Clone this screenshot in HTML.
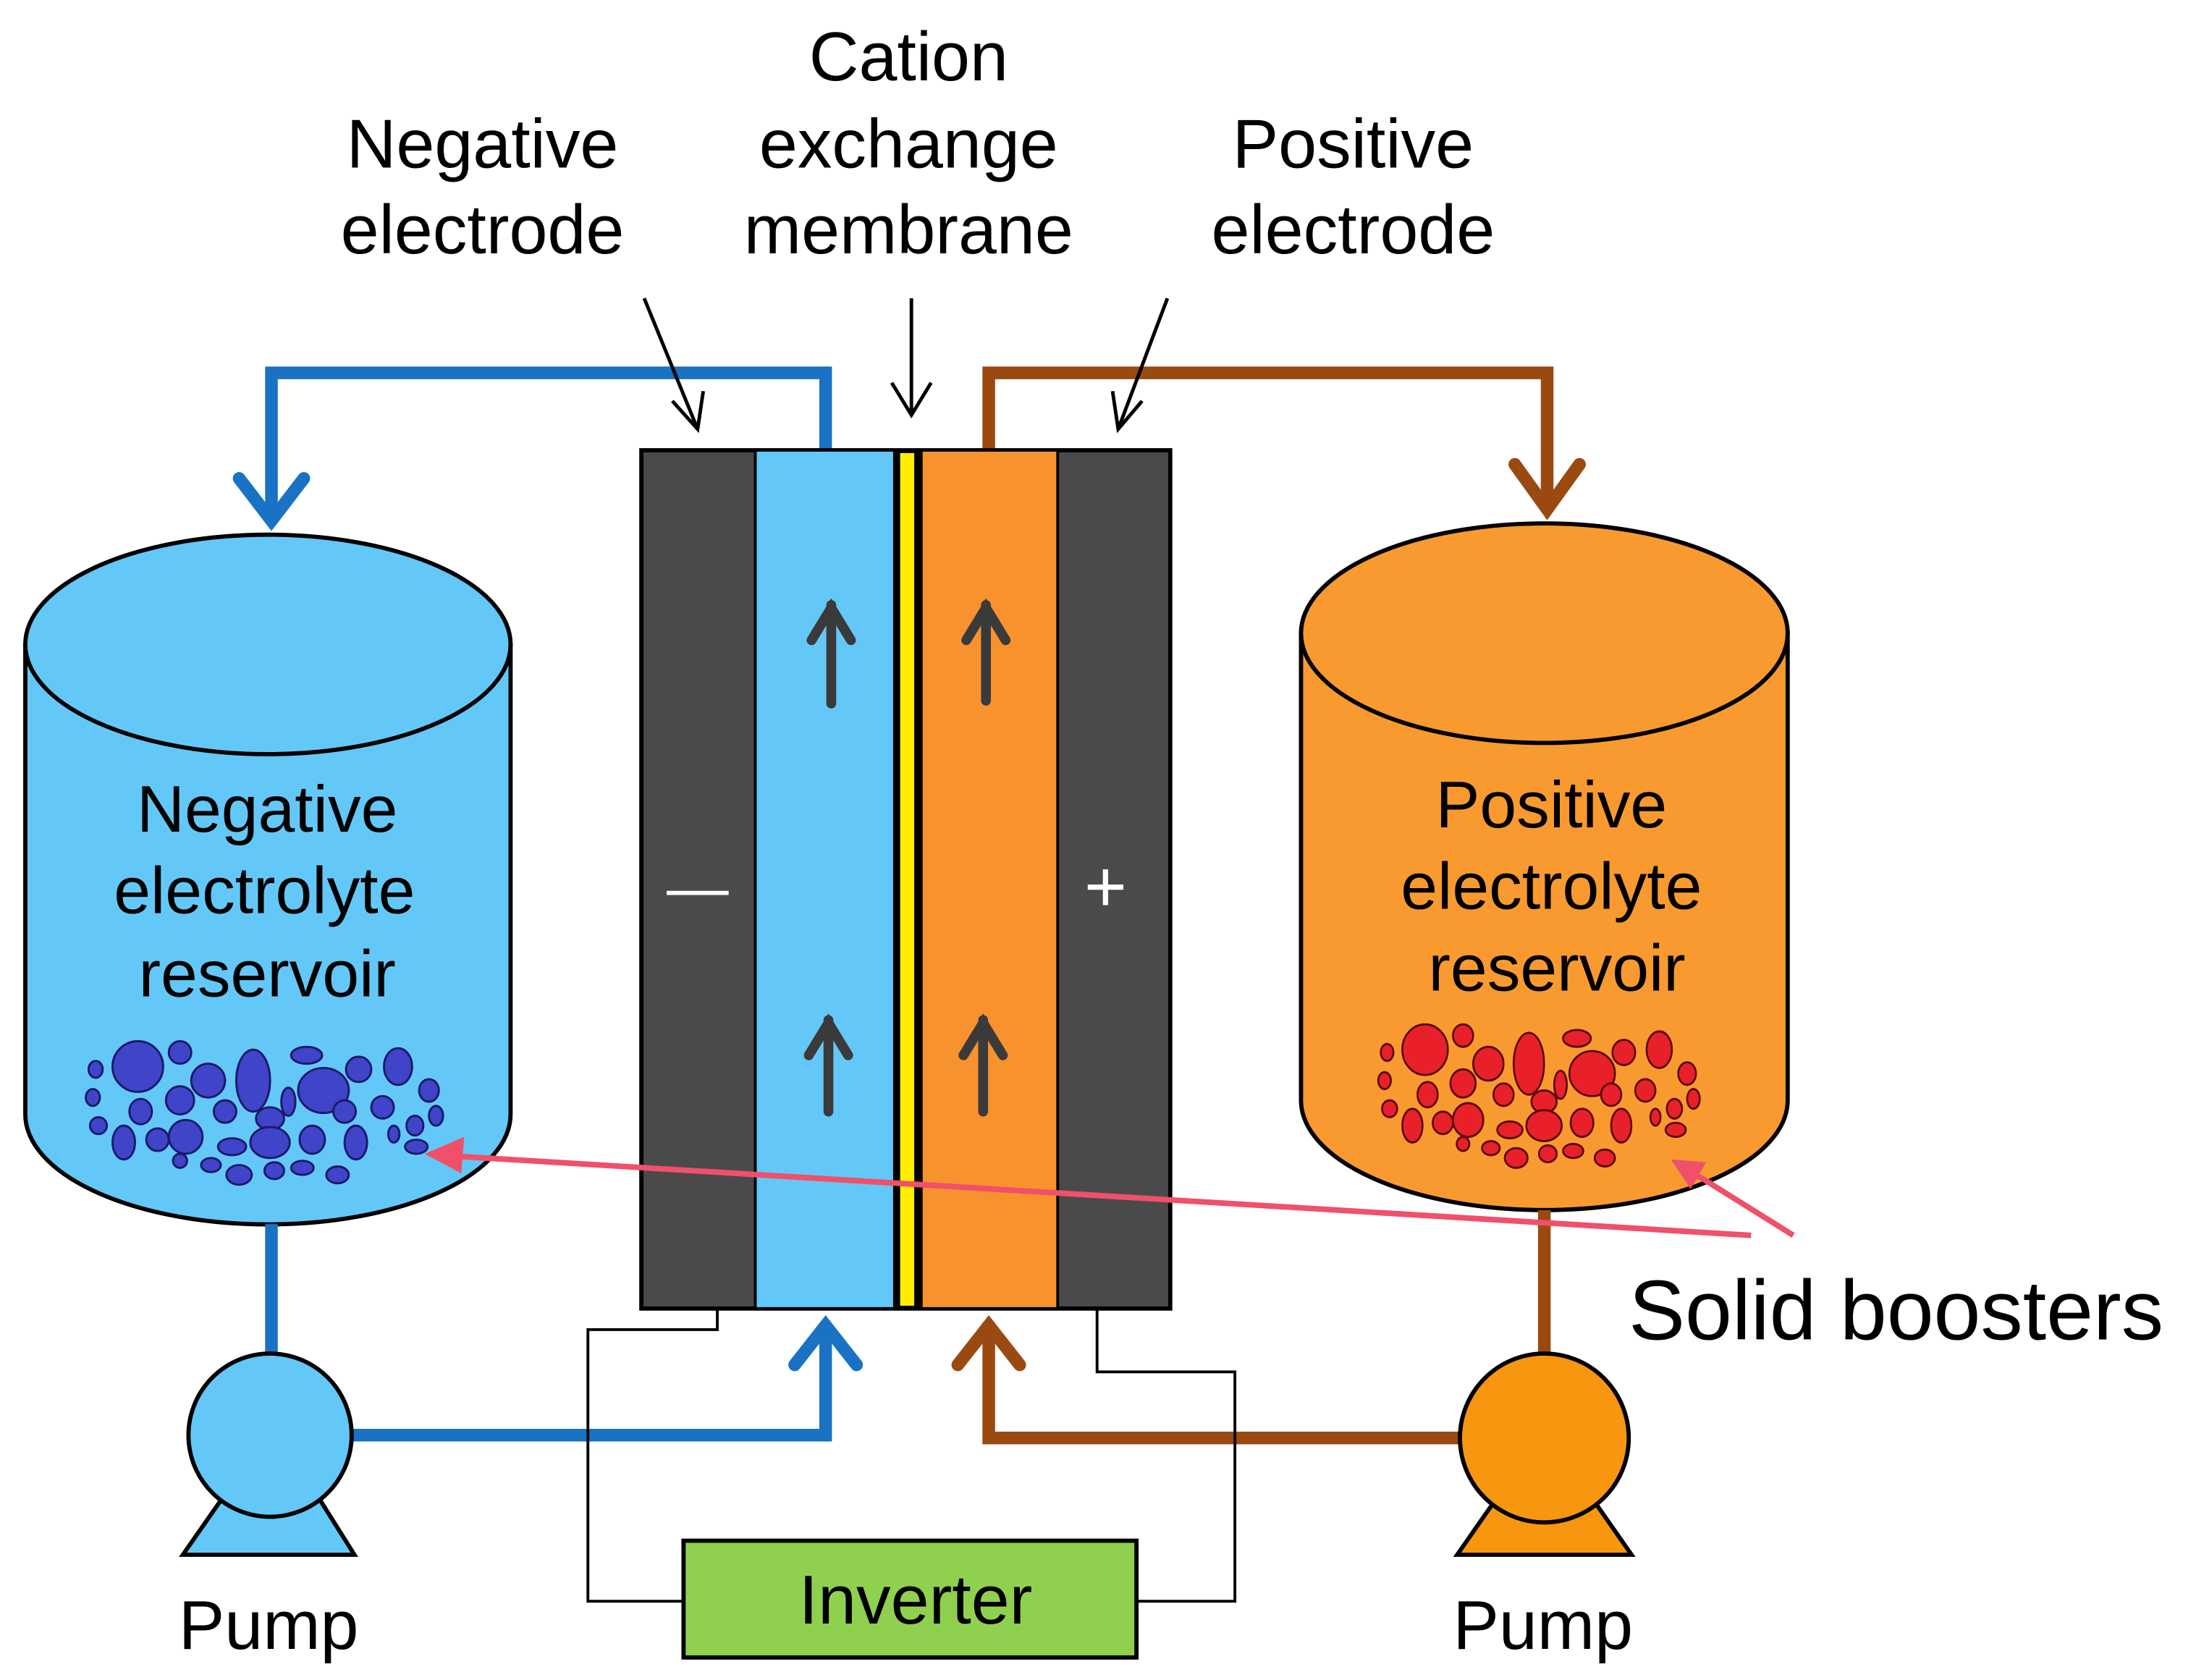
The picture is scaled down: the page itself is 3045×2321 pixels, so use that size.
<!DOCTYPE html>
<html><head><meta charset="utf-8"><style>
html,body{margin:0;padding:0;background:#fff;}
svg{display:block;}
text{font-family:"Liberation Sans",sans-serif;}
</style></head><body>
<svg width="3045" height="2321" viewBox="0 0 1567 1194" preserveAspectRatio="none" xmlns="http://www.w3.org/2000/svg">
<defs>
<g id="parts">
<ellipse cx="98" cy="758" rx="18" ry="18"/><ellipse cx="128" cy="748" rx="8" ry="8"/><ellipse cx="148" cy="768" rx="12" ry="12"/><ellipse cx="180" cy="768" rx="12" ry="22"/><ellipse cx="218" cy="750" rx="11" ry="6"/><ellipse cx="230" cy="775" rx="18" ry="16"/><ellipse cx="255" cy="760" rx="9" ry="9"/><ellipse cx="283" cy="758" rx="10" ry="13"/><ellipse cx="305" cy="775" rx="7" ry="8"/><ellipse cx="68" cy="760" rx="5" ry="6"/><ellipse cx="66" cy="780" rx="5" ry="6"/><ellipse cx="100" cy="790" rx="8" ry="9"/><ellipse cx="128" cy="782" rx="10" ry="10"/><ellipse cx="160" cy="790" rx="8" ry="8"/><ellipse cx="192" cy="795" rx="10" ry="8"/><ellipse cx="205" cy="783" rx="5" ry="10"/><ellipse cx="245" cy="790" rx="8" ry="8"/><ellipse cx="272" cy="787" rx="8" ry="8"/><ellipse cx="295" cy="800" rx="6" ry="7"/><ellipse cx="70" cy="800" rx="6" ry="6"/><ellipse cx="88" cy="812" rx="8" ry="12"/><ellipse cx="112" cy="810" rx="8" ry="8"/><ellipse cx="132" cy="808" rx="12" ry="12"/><ellipse cx="165" cy="815" rx="10" ry="6"/><ellipse cx="192" cy="812" rx="14" ry="11"/><ellipse cx="222" cy="810" rx="9" ry="10"/><ellipse cx="253" cy="812" rx="8" ry="12"/><ellipse cx="280" cy="806" rx="4" ry="6"/><ellipse cx="296" cy="815" rx="8" ry="5"/><ellipse cx="150" cy="828" rx="7" ry="5"/><ellipse cx="170" cy="835" rx="9" ry="7"/><ellipse cx="195" cy="832" rx="7" ry="6"/><ellipse cx="215" cy="830" rx="8" ry="5"/><ellipse cx="240" cy="835" rx="8" ry="6"/><ellipse cx="128" cy="825" rx="5" ry="5"/><ellipse cx="310" cy="793" rx="5" ry="7"/>
</g>
</defs>

<path d="M18,458 L18,792 A172,78 0 0 0 363,792 L363,458 Z" fill="#63c8f8" stroke="#000" stroke-width="3"/>
<ellipse cx="190.5" cy="458" rx="172.5" ry="78" fill="#63c8f8" stroke="#000" stroke-width="3"/>
<g font-size="47" text-anchor="middle" fill="#000">
<text x="190" y="591">Negative</text><text x="188" y="649">electrolyte</text><text x="190" y="708">reservoir</text>
</g>
<g fill="#3f44c8" stroke="#1a1a6a" stroke-width="1.5"><use href="#parts"/></g>

<path d="M925,450 L925,782 A173,78 0 0 0 1271,782 L1271,450 Z" fill="#f89a30" stroke="#000" stroke-width="3"/>
<ellipse cx="1098" cy="450" rx="173" ry="78" fill="#f89a30" stroke="#000" stroke-width="3"/>
<g font-size="47" text-anchor="middle" fill="#000">
<text x="1103" y="588">Positive</text><text x="1103" y="646">electrolyte</text><text x="1107" y="704">reservoir</text>
</g>
<g fill="#e8202a" stroke="#5a0a0a" stroke-width="1.5" transform="translate(925,-12) scale(0.9,1)"><use href="#parts"/></g>

<g fill="none" stroke="#1a72c4" stroke-width="9" stroke-linejoin="miter">
<path d="M587,320 L587,265 L193,265 L193,370"/>
<path d="M170,340 L193,370 L216,340" stroke-linecap="round"/>
<path d="M193,870 L193,965"/>
<path d="M250,1020 L587,1020 L587,940"/>
<path d="M565,970 L587,942 L609,970" stroke-linecap="round"/>
</g>
<g fill="none" stroke="#9a4a10" stroke-width="9">
<path d="M703,320 L703,265 L1100,265 L1100,362"/>
<path d="M1077,330 L1100,362 L1123,330" stroke-linecap="round"/>
<path d="M1098,860 L1098,962"/>
<path d="M1040,1022 L703,1022 L703,940"/>
<path d="M681,970 L703,942 L725,970" stroke-linecap="round"/>
</g>

<rect x="456" y="320" width="376" height="610" fill="#4a4a4a" stroke="#000" stroke-width="3"/>
<rect x="537" y="320" width="99" height="610" fill="#63c8f8" stroke="#000" stroke-width="2"/>
<rect x="655" y="320" width="97" height="610" fill="#f7922e" stroke="#000" stroke-width="2"/>
<rect x="636" y="320" width="19" height="610" fill="#000"/>
<rect x="640" y="322" width="10" height="606" fill="#ffee00"/>
<text x="496" y="646" font-size="44" fill="#fff" text-anchor="middle">—</text>
<text x="786" y="648" font-size="52" fill="#fff" text-anchor="middle">+</text>
<g stroke="#3a3a3a" stroke-width="7" fill="none" stroke-linecap="round">
<path d="M591,500 L591,430 M577,455 L591,432 L605,455"/>
<path d="M701,498 L701,430 M687,455 L701,432 L715,455"/>
<path d="M589,790 L589,725 M575,750 L589,727 L603,750"/>
<path d="M699,790 L699,725 M685,750 L699,727 L713,750"/>
</g>

<g stroke="#000" stroke-width="2.5" fill="none">
<path d="M458,212 L496,305 M478,285 L496,305 L500,278"/>
<path d="M648,212 L648,295 M634,272 L648,295 L662,272"/>
<path d="M830,212 L795,305 M791,278 L795,305 L812,285"/>
</g>
<g font-size="49" text-anchor="middle" fill="#000">
<text x="646" y="57">Cation</text><text x="646" y="119">exchange</text><text x="646" y="180">membrane</text>
<text x="343" y="119">Negative</text><text x="343" y="180">electrode</text>
<text x="962" y="119">Positive</text><text x="962" y="180">electrode</text>
</g>

<g stroke="#f0506a" stroke-width="4" fill="none">
<path d="M1245,878 L312,821"/>
<path d="M1275,878 L1195,828"/>
</g>
<path d="M302,820 L330,808 L328,834 Z" fill="#f0506a"/>
<path d="M1188,824 L1213,826 L1202,845 Z" fill="#f0506a"/>
<text x="1158" y="952" font-size="60" fill="#000">Solid boosters</text>

<g stroke="#000" stroke-width="2" fill="none">
<path d="M510,930 L510,945 L418,945 L418,1138 L486,1138"/>
<path d="M780,930 L780,975 L878,975 L878,1138 L808,1138"/>
</g>
<rect x="486" y="1095" width="322" height="83" fill="#8fd14f" stroke="#000" stroke-width="3"/>
<text x="651" y="1154" font-size="49" text-anchor="middle" fill="#000">Inverter</text>

<path d="M130,1105 L160,1062 L225,1062 L252,1105 Z" fill="#63c8f8" stroke="#000" stroke-width="3"/>
<circle cx="192" cy="1020" r="58" fill="#63c8f8" stroke="#000" stroke-width="3"/>
<path d="M1036,1105 L1066,1062 L1130,1062 L1160,1105 Z" fill="#f7960f" stroke="#000" stroke-width="3"/>
<circle cx="1098" cy="1022" r="60" fill="#f7960f" stroke="#000" stroke-width="3"/>
<g font-size="49" text-anchor="middle" fill="#000">
<text x="191" y="1172">Pump</text><text x="1097" y="1172">Pump</text>
</g>
</svg>
</body></html>
